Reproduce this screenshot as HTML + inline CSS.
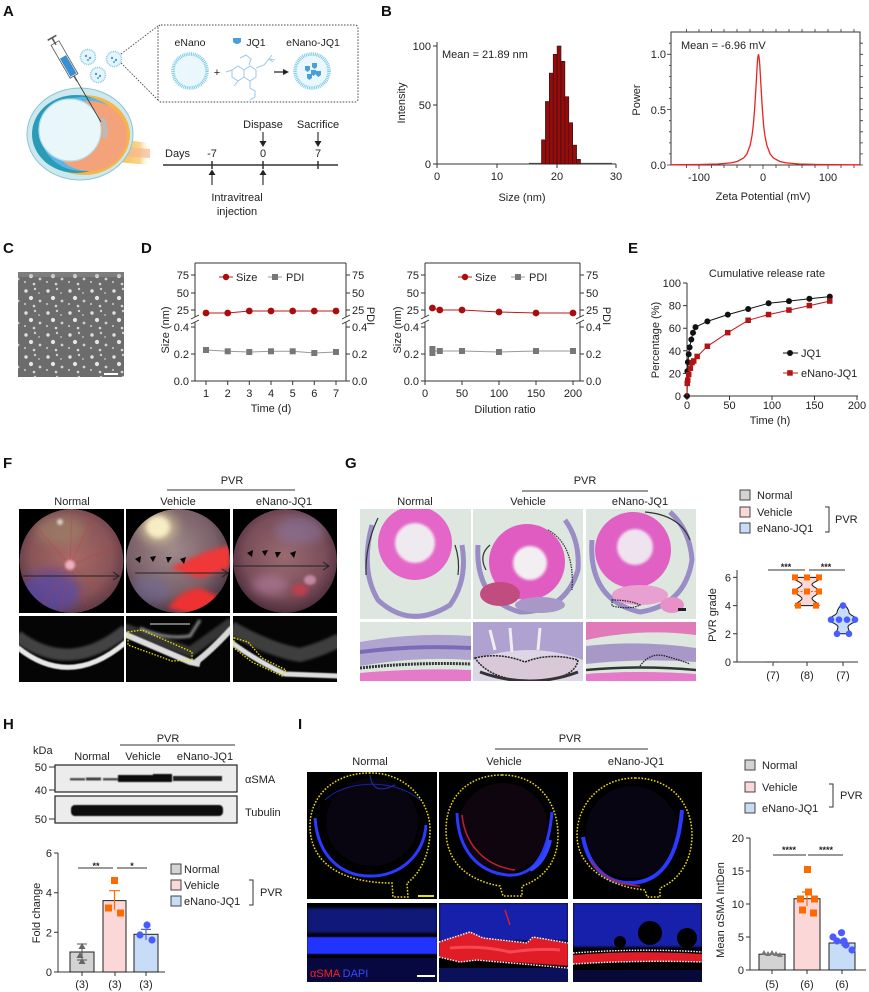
<!DOCTYPE html>
<html><head><meta charset="utf-8"><style>
html,body{margin:0;padding:0;background:#fff;}
svg{display:block;font-family:"Liberation Sans",Arial,sans-serif;}
</style></head><body>
<svg width="869" height="992" viewBox="0 0 869 992" xmlns="http://www.w3.org/2000/svg">
<defs>
<filter id="b05" x="-20%" y="-20%" width="140%" height="140%"><feGaussianBlur stdDeviation="0.6"/></filter>
<filter id="b1" x="-30%" y="-30%" width="160%" height="160%"><feGaussianBlur stdDeviation="1.2"/></filter>
<filter id="b2" x="-50%" y="-50%" width="200%" height="200%"><feGaussianBlur stdDeviation="2.5"/></filter>
<filter id="b4" x="-50%" y="-50%" width="200%" height="200%"><feGaussianBlur stdDeviation="5"/></filter>
<radialGradient id="fn1" cx="50%" cy="45%" r="55%"><stop offset="0" stop-color="#a86a66"/><stop offset="0.7" stop-color="#8a5558"/><stop offset="1" stop-color="#5e3a44"/></radialGradient>
<radialGradient id="fn2" cx="45%" cy="40%" r="60%"><stop offset="0" stop-color="#a08a8c"/><stop offset="0.7" stop-color="#7a6068"/><stop offset="1" stop-color="#4e3a48"/></radialGradient>
<radialGradient id="fn3" cx="50%" cy="45%" r="55%"><stop offset="0" stop-color="#9a6a70"/><stop offset="0.7" stop-color="#7a4e5a"/><stop offset="1" stop-color="#4e2e3c"/></radialGradient>
<linearGradient id="nerve" x1="0" x2="1" y1="0" y2="0"><stop offset="0" stop-color="#f6bc4e"/><stop offset="0.7" stop-color="#f8d58a"/><stop offset="1" stop-color="#fff" stop-opacity="0"/></linearGradient>
<pattern id="tem" width="22" height="22" patternUnits="userSpaceOnUse"><rect width="22" height="22" fill="#6c6c6c"/><circle cx="4" cy="5" r="1.7" fill="#e2e2e2"/><circle cx="13" cy="3" r="1.2" fill="#cfcfcf"/><circle cx="9" cy="12" r="2.1" fill="#e6e6e6"/><circle cx="18" cy="15" r="1.4" fill="#d0d0d0"/><circle cx="3" cy="18" r="1.1" fill="#bdbdbd"/><circle cx="17" cy="7" r="0.9" fill="#c8c8c8"/><circle cx="12" cy="20" r="1.3" fill="#d8d8d8"/></pattern>
<clipPath id="cF1"><circle cx="71.5" cy="561" r="52"/></clipPath>
<clipPath id="cF2"><circle cx="178" cy="561" r="52"/></clipPath>
<clipPath id="cF3"><circle cx="285" cy="561" r="52"/></clipPath>
<clipPath id="cG1"><rect x="360" y="509" width="111" height="110"/></clipPath>
<clipPath id="cG2"><rect x="473" y="509" width="110" height="110"/></clipPath>
<clipPath id="cG3"><rect x="586" y="509" width="110" height="110"/></clipPath>
<clipPath id="cG4"><rect x="360" y="622" width="111" height="59"/></clipPath>
<clipPath id="cG5"><rect x="473" y="622" width="110" height="59"/></clipPath>
<clipPath id="cG6"><rect x="586" y="622" width="110" height="59"/></clipPath>
<clipPath id="cO1"><rect x="19" y="616" width="105" height="66"/></clipPath>
<clipPath id="cO2"><rect x="126" y="616" width="104" height="66"/></clipPath>
<clipPath id="cO3"><rect x="233" y="616" width="104" height="66"/></clipPath>
<clipPath id="cI4"><rect x="307" y="903" width="130" height="79"/></clipPath>
<clipPath id="cI5"><rect x="439" y="903" width="129" height="79"/></clipPath>
<clipPath id="cI6"><rect x="573" y="903" width="129" height="79"/></clipPath>
</defs>
<rect width="869" height="992" fill="#fff"/>

<!-- Panel letters -->
<g font-weight="bold" font-size="15" fill="#111">
<text x="3" y="16">A</text><text x="381" y="16">B</text>
<text x="3" y="253">C</text><text x="141" y="253">D</text><text x="628" y="253">E</text>
<text x="3" y="468">F</text><text x="345" y="468">G</text>
<text x="3" y="729">H</text><text x="298" y="729">I</text>
</g>

<!-- ===== Panel A ===== -->
<g>
<path d="M116 139 L150 143 L150 165 L116 162 Z" fill="url(#nerve)"/>
<path d="M116 146 L150 149 L150 158 L116 156 Z" fill="#f6b690" opacity="0.7"/>
<ellipse cx="80" cy="134" rx="53" ry="46" fill="#cde8ee" stroke="#8ac6d2" stroke-width="1"/>
<ellipse cx="84" cy="135" rx="46" ry="40" fill="#f5b548"/>
<ellipse cx="76" cy="134" rx="44" ry="39" fill="#2b9cb8"/>
<ellipse cx="82" cy="134" rx="41" ry="37" fill="#5ab6e6"/>
<ellipse cx="89" cy="136" rx="38" ry="35" fill="#f4a27a"/>
<circle cx="70" cy="130" r="31" fill="#e9f6fa" stroke="#b5dde8" stroke-width="1.2"/>
<path d="M102 118 Q108 126 104 138" stroke="#9fc6d8" stroke-width="5" fill="none" opacity="0.6"/>
<line x1="55" y1="43" x2="101" y2="122" stroke="#333" stroke-width="0.8"/>
<g transform="translate(55,43) rotate(60)">
<rect x="0" y="-4.5" width="38" height="9" fill="#fff" stroke="#555" stroke-width="0.8"/>
<rect x="16" y="-3.5" width="21" height="7" fill="#3a8fd0"/>
<line x1="-6" y1="0" x2="2" y2="0" stroke="#555" stroke-width="1.5"/>
<line x1="-6" y1="-5" x2="-6" y2="5" stroke="#555" stroke-width="1.5"/>
<line x1="38" y1="0" x2="44" y2="0" stroke="#555" stroke-width="1.5"/>
</g>
<g fill="#e6f4fb" stroke="#8ccbe8" stroke-width="1.6" stroke-dasharray="1 0.8">
<circle cx="88" cy="57" r="7.5"/><circle cx="114" cy="59" r="7.5"/><circle cx="98" cy="75" r="7.5"/>
</g>
<g fill="#4b9fd8">
<circle cx="86" cy="56" r="1.2"/><circle cx="90" cy="58" r="1.2"/><circle cx="88" cy="60" r="1"/>
<circle cx="112" cy="58" r="1.2"/><circle cx="116" cy="60" r="1.2"/><circle cx="114" cy="62" r="1"/>
<circle cx="96" cy="74" r="1.2"/><circle cx="100" cy="76" r="1.2"/><circle cx="98" cy="78" r="1"/>
</g>
<line x1="121" y1="54" x2="158" y2="26" stroke="#444" stroke-width="0.9" stroke-dasharray="1.5 1.5"/>
<line x1="121" y1="63" x2="158" y2="100" stroke="#444" stroke-width="0.9" stroke-dasharray="1.5 1.5"/>
<rect x="158" y="25" width="200" height="77" rx="3" fill="none" stroke="#444" stroke-width="1" stroke-dasharray="1.5 1.5"/>
<g font-size="10.5" fill="#222" text-anchor="middle">
<text x="190" y="46">eNano</text><text x="256" y="46">JQ1</text><text x="313" y="46">eNano-JQ1</text>
</g>
<path d="M233 38 h8 v4 q-4 4 -8 0 Z" fill="#4b9fd8"/>
<circle cx="190" cy="71" r="17" fill="#eaf7fc" stroke="#7fcbe8" stroke-width="3.5" stroke-dasharray="1 0.8"/>
<circle cx="312" cy="71" r="17" fill="#eaf7fc" stroke="#7fcbe8" stroke-width="3.5" stroke-dasharray="1 0.8"/>
<g fill="#4b9fd8"><path d="M305 66 h5 v4 l-2.5 2 l-2.5 -2 Z"/><path d="M312 63 h5 v4 l-2.5 2 l-2.5 -2 Z"/><path d="M316 71 h5 v4 l-2.5 2 l-2.5 -2 Z"/><path d="M307 74 h5 v4 l-2.5 2 l-2.5 -2 Z"/><path d="M311 70 h5 v4 l-2.5 2 l-2.5 -2 Z"/></g>
<g stroke="#9cc8e8" stroke-width="1" fill="none">
<path d="M232 70 l6 -4 l6 4 l0 7 l-6 4 l-6 -4 Z"/><path d="M244 70 l6 -4 l6 4 l0 7 l-6 4 l-6 -4 Z"/>
<path d="M240 58 l6 -3 l5 4 l-2 6"/><path d="M256 68 l8 -3 l5 -6 l6 1"/><path d="M269 59 l3 -4 m-3 4 l4 3"/>
<path d="M250 81 l0 7 l5 3 l0 6 l-5 3"/><path d="M226 72 l6 -2"/><path d="M238 81 l-4 5"/>
</g>
<text x="217" y="76" font-size="11" fill="#222" text-anchor="middle">+</text>
<line x1="274" y1="72" x2="284" y2="72" stroke="#222" stroke-width="1.2"/>
<path d="M289 72 L283 69 L283 75 Z" fill="#222"/>
<line x1="163" y1="165" x2="338" y2="165" stroke="#333" stroke-width="1.5"/>
<g stroke="#333" stroke-width="1.5"><line x1="212" y1="161" x2="212" y2="169"/><line x1="263" y1="161" x2="263" y2="169"/><line x1="318" y1="161" x2="318" y2="169"/></g>
<g font-size="11" fill="#222" text-anchor="middle">
<text x="165" y="157" text-anchor="start">Days</text><text x="212" y="157">-7</text><text x="263" y="157">0</text><text x="318" y="157">7</text>
<text x="263" y="128">Dispase</text><text x="318" y="128">Sacrifice</text>
<text x="237" y="201">Intravitreal</text><text x="237" y="215">injection</text>
</g>
<g stroke="#222" stroke-width="1.1">
<line x1="263" y1="132" x2="263" y2="142"/><line x1="318" y1="132" x2="318" y2="142"/>
<line x1="212" y1="185" x2="212" y2="174"/><line x1="263" y1="185" x2="263" y2="174"/>
</g>
<g fill="#222">
<path d="M259.5 141 L266.5 141 L263 147 Z"/><path d="M314.5 141 L321.5 141 L318 147 Z"/>
<path d="M208.5 175 L215.5 175 L212 169.5 Z"/><path d="M259.5 175 L266.5 175 L263 169.5 Z"/>
</g>
</g>

<!-- ===== Panel B left ===== -->
<g font-size="11" fill="#222">
<line x1="437" y1="42" x2="437" y2="164" stroke="#333"/>
<line x1="437" y1="164" x2="616" y2="164" stroke="#333"/>
<g stroke="#333"><line x1="433" y1="46" x2="437" y2="46"/><line x1="433" y1="105" x2="437" y2="105"/><line x1="433" y1="164" x2="437" y2="164"/>
<line x1="437" y1="164" x2="437" y2="168"/><line x1="497" y1="164" x2="497" y2="168"/><line x1="557" y1="164" x2="557" y2="168"/><line x1="616" y1="164" x2="616" y2="168"/></g>
<g text-anchor="end"><text x="431" y="50">100</text><text x="431" y="109">50</text><text x="431" y="168">0</text></g>
<g text-anchor="middle"><text x="437" y="180">0</text><text x="497" y="180">10</text><text x="557" y="180">20</text><text x="616" y="180">30</text>
<text x="522" y="201">Size (nm)</text>
<text transform="translate(405,103) rotate(-90)">Intensity</text></g>
<text x="442" y="58">Mean = 21.89 nm</text>
<line x1="529" y1="163.5" x2="612" y2="163.5" stroke="#444" stroke-width="1.2"/>
<g fill="#9b0a0a" stroke="#1a1a1a" stroke-width="0.6">
<rect x="541.5" y="139.8" width="3.9" height="24.2"/>
<rect x="545.4" y="101.5" width="3.9" height="62.5"/>
<rect x="549.3" y="73.1" width="3.9" height="90.9"/>
<rect x="553.2" y="54.3" width="3.9" height="109.7"/>
<rect x="557.1" y="46" width="3.9" height="118"/>
<rect x="561" y="61.3" width="3.9" height="102.7"/>
<rect x="564.9" y="96.7" width="3.9" height="67.3"/>
<rect x="568.8" y="122.7" width="3.9" height="41.3"/>
<rect x="572.7" y="145.1" width="3.9" height="18.9"/>
<rect x="576.6" y="159.3" width="3.9" height="4.7"/>
</g>
</g>

<!-- ===== Panel B right ===== -->
<g font-size="11" fill="#222">
<rect x="671" y="32" width="189" height="133" fill="none" stroke="#333"/>
<g stroke="#333" stroke-width="0.8">
<path d="M686.5 165v3M699 165v4M711.5 165v3M724 165v3M737 165v3M750 165v3M763 165v4M776 165v3M789 165v3M802 165v3M815 165v3M828 165v4M841 165v3M854 165v3"/>
<path d="M686.5 32v-3M699 32v-3M711.5 32v-3M724 32v-3M737 32v-3M750 32v-3M763 32v-3M776 32v-3M789 32v-3M802 32v-3M815 32v-3M828 32v-3M841 32v-3M854 32v-3"/>
<path d="M671 165h-4M671 153.9h-2M671 142.9h-2M671 131.8h-2M671 120.7h-2M671 109.6h-4M671 98.6h-2M671 87.5h-2M671 76.4h-2M671 65.4h-2M671 54.3h-4M671 43.2h-2"/>
<path d="M860 165h3M860 153.9h3M860 142.9h3M860 131.8h3M860 120.7h3M860 109.6h3M860 98.6h3M860 87.5h3M860 76.4h3M860 65.4h3M860 54.3h3M860 43.2h3"/>
</g>
<g text-anchor="end"><text x="666" y="58">1.0</text><text x="666" y="114">0.5</text><text x="666" y="169">0.0</text></g>
<g text-anchor="middle"><text x="699" y="181">-100</text><text x="763" y="181">0</text><text x="828" y="181">100</text>
<text x="763" y="200">Zeta Potential (mV)</text>
<text transform="translate(640,100) rotate(-90)">Power</text></g>
<text x="681" y="49">Mean = -6.96 mV</text>
<polyline fill="none" stroke="#f02020" stroke-width="1.3" points="671,164.8 698.5,164.5 717.9,164 730.8,162.9 737.2,161.5 743.7,157.9 746.9,153.9 750.1,145.5 752,135.7 753.3,125.2 754.6,109.6 755.9,88.4 757.2,65.4 757.8,57.3 758.5,54.3 759.1,57.3 759.8,65.4 761.1,88.4 762.4,109.6 763.6,125.2 764.9,135.7 766.9,145.5 770.1,153.9 773.3,157.9 779.8,161.5 786.2,162.9 799.1,164 818.5,164.5 850.7,164.8 859.8,164.8"/>
</g>

<!-- ===== Panel C ===== -->
<rect x="18" y="272" width="106" height="105" fill="url(#tem)"/>
<rect x="18" y="272" width="106" height="5" fill="#999" opacity="0.4"/>
<line x1="104" y1="374" x2="118" y2="374" stroke="#fff" stroke-width="2"/>

<!-- ===== Panel D1 ===== -->
<g font-size="11" fill="#222">
<g stroke="#333" fill="none">
<path d="M195 263 V317 M195 322 V381 H346 M346 263 V317 M346 322 V381 M195 263 H346"/>
<path d="M191 319 l8 -4 M191 324 l8 -4 M342 319 l8 -4 M342 324 l8 -4" stroke-width="0.9"/>
<path d="M191 275h4M191 293h4M191 310h4M191 327h4M191 354h4M191 381h4 M346 275h4M346 293h4M346 310h4M346 327h4M346 354h4M346 381h4"/>
<path d="M206 381v4M227.7 381v4M249.3 381v4M271 381v4M292.7 381v4M314.3 381v4M336 381v4"/>
</g>
<g text-anchor="end"><text x="189" y="279">75</text><text x="189" y="297">50</text><text x="189" y="314">25</text><text x="189" y="331">0.4</text><text x="189" y="358">0.2</text><text x="189" y="385">0.0</text></g>
<g><text x="352" y="279">75</text><text x="352" y="297">50</text><text x="352" y="314">25</text><text x="352" y="331">0.4</text><text x="352" y="358">0.2</text><text x="352" y="385">0.0</text></g>
<g text-anchor="middle"><text x="206" y="397">1</text><text x="227.7" y="397">2</text><text x="249.3" y="397">3</text><text x="271" y="397">4</text><text x="292.7" y="397">5</text><text x="314.3" y="397">6</text><text x="336" y="397">7</text>
<text x="271" y="412">Time (d)</text>
<text transform="translate(169,330) rotate(-90)">Size (nm)</text>
<text transform="translate(367,316) rotate(90)">PDI</text></g>
<polyline fill="none" stroke="#c01818" stroke-width="1" points="206,313 227.7,313 249.3,311 271,311 292.7,311 314.3,311 336,311"/>
<g fill="#a80c0c"><circle cx="206" cy="313" r="3.4"/><circle cx="227.7" cy="313" r="3.4"/><circle cx="249.3" cy="311" r="3.4"/><circle cx="271" cy="311" r="3.4"/><circle cx="292.7" cy="311" r="3.4"/><circle cx="314.3" cy="311" r="3.4"/><circle cx="336" cy="311" r="3.4"/></g>
<polyline fill="none" stroke="#999" stroke-width="1" points="206,350 227.7,351.3 249.3,352 271,351.3 292.7,351.3 314.3,353 336,352"/>
<g fill="#777"><rect x="203" y="347" width="6" height="6"/><rect x="224.7" y="348.3" width="6" height="6"/><rect x="246.3" y="349" width="6" height="6"/><rect x="268" y="348.3" width="6" height="6"/><rect x="289.7" y="348.3" width="6" height="6"/><rect x="311.3" y="350" width="6" height="6"/><rect x="333" y="349" width="6" height="6"/></g>
<line x1="219" y1="277" x2="233" y2="277" stroke="#c01818"/><circle cx="226" cy="277" r="3.2" fill="#a80c0c"/><text x="236" y="281">Size</text>
<line x1="268" y1="277" x2="282" y2="277" stroke="#999"/><rect x="272" y="274" width="6" height="6" fill="#777"/><text x="286" y="281">PDI</text>
</g>

<!-- ===== Panel D2 ===== -->
<g font-size="11" fill="#222">
<g stroke="#333" fill="none">
<path d="M425 263 V317 M425 322 V381 H580 M580 263 V317 M580 322 V381 M425 263 H580"/>
<path d="M421 319 l8 -4 M421 324 l8 -4 M576 319 l8 -4 M576 324 l8 -4" stroke-width="0.9"/>
<path d="M421 275h4M421 293h4M421 310h4M421 327h4M421 354h4M421 381h4 M580 275h4M580 293h4M580 310h4M580 327h4M580 354h4M580 381h4"/>
<path d="M425 381v4M462 381v4M499 381v4M536 381v4M573 381v4"/>
</g>
<g text-anchor="end"><text x="419" y="279">75</text><text x="419" y="297">50</text><text x="419" y="314">25</text><text x="419" y="331">0.4</text><text x="419" y="358">0.2</text><text x="419" y="385">0.0</text></g>
<g><text x="586" y="279">75</text><text x="586" y="297">50</text><text x="586" y="314">25</text><text x="586" y="331">0.4</text><text x="586" y="358">0.2</text><text x="586" y="385">0.0</text></g>
<g text-anchor="middle"><text x="425" y="397">0</text><text x="462" y="397">50</text><text x="499" y="397">100</text><text x="536" y="397">150</text><text x="573" y="397">200</text>
<text x="505" y="413">Dilution ratio</text>
<text transform="translate(401,330) rotate(-90)">Size (nm)</text>
<text transform="translate(603,316) rotate(90)">PDI</text></g>
<polyline fill="none" stroke="#c01818" stroke-width="1" points="432.4,308 439.8,310 462,310 499,312 536,313 573,313"/>
<g fill="#a80c0c"><circle cx="432.4" cy="308" r="3.4"/><circle cx="439.8" cy="310" r="3.4"/><circle cx="462" cy="310" r="3.4"/><circle cx="499" cy="312" r="3.4"/><circle cx="536" cy="313" r="3.4"/><circle cx="573" cy="313" r="3.4"/></g>
<polyline fill="none" stroke="#999" stroke-width="1" points="432.4,351 439.8,351 462,351 499,352 536,351 573,351"/>
<g fill="#777"><rect x="429.4" y="346" width="6" height="6"/><rect x="429.4" y="350" width="6" height="6"/><rect x="436.8" y="348" width="6" height="6"/><rect x="459" y="348" width="6" height="6"/><rect x="496" y="349" width="6" height="6"/><rect x="533" y="348" width="6" height="6"/><rect x="570" y="348" width="6" height="6"/></g>
<line x1="458" y1="277" x2="472" y2="277" stroke="#c01818"/><circle cx="465" cy="277" r="3.2" fill="#a80c0c"/><text x="475" y="281">Size</text>
<line x1="511" y1="277" x2="525" y2="277" stroke="#999"/><rect x="515" y="274" width="6" height="6" fill="#777"/><text x="529" y="281">PDI</text>
</g>

<!-- ===== Panel E ===== -->
<g font-size="11" fill="#222">
<path d="M687 283 V396 H858" stroke="#333" fill="none"/>
<g stroke="#333"><path d="M683 283h4M683 305.6h4M683 328.2h4M683 350.8h4M683 373.4h4M683 396h4 M687 396v4M729.5 396v4M772 396v4M814.5 396v4M857 396v4"/></g>
<g text-anchor="end"><text x="681" y="287">100</text><text x="681" y="309.6">80</text><text x="681" y="332.2">60</text><text x="681" y="354.8">40</text><text x="681" y="377.4">20</text><text x="681" y="400">0</text></g>
<g text-anchor="middle"><text x="687" y="409">0</text><text x="729.5" y="409">50</text><text x="772" y="409">100</text><text x="814.5" y="409">150</text><text x="857" y="409">200</text>
<text x="770" y="424">Time (h)</text>
<text x="767" y="277">Cumulative release rate</text>
<text transform="translate(659,340) rotate(-90)">Percentage (%)</text></g>
<polyline fill="none" stroke="#111" stroke-width="1" points="687,396 687.4,371.1 687.9,362.1 688.7,354.2 689.6,347.4 691.3,339.5 693,332.7 695.5,327.1 707.4,321.4 727.8,314.6 748.2,309 768.6,303.3 789,301.1 809.4,298.8 829.8,296.6"/>
<g fill="#111"><circle cx="687" cy="396" r="3"/><circle cx="687.4" cy="371.1" r="3"/><circle cx="687.9" cy="362.1" r="3"/><circle cx="688.7" cy="354.2" r="3"/><circle cx="689.6" cy="347.4" r="3"/><circle cx="691.3" cy="339.5" r="3"/><circle cx="693" cy="332.7" r="3"/><circle cx="695.5" cy="327.1" r="3"/><circle cx="707.4" cy="321.4" r="3"/><circle cx="727.8" cy="314.6" r="3"/><circle cx="748.2" cy="309" r="3"/><circle cx="768.6" cy="303.3" r="3"/><circle cx="789" cy="301.1" r="3"/><circle cx="809.4" cy="298.8" r="3"/><circle cx="829.8" cy="296.6" r="3"/></g>
<polyline fill="none" stroke="#c01818" stroke-width="1" points="687,396 687.4,383.6 687.9,380.2 688.7,374.5 690.4,368.3 692.1,362.7 693.8,361 697.2,356.5 707.4,346.3 727.8,332.7 748.2,320.3 768.6,314.6 789,310.1 809.4,305.6 829.8,301.1"/>
<g fill="#b01414"><rect x="684.5" y="380.6" width="5.5" height="5.5"/><rect x="685" y="377.4" width="5.5" height="5.5"/><rect x="686" y="371.7" width="5.5" height="5.5"/><rect x="687.6" y="365.5" width="5.5" height="5.5"/><rect x="689.3" y="359.9" width="5.5" height="5.5"/><rect x="691" y="358.2" width="5.5" height="5.5"/><rect x="694.4" y="353.7" width="5.5" height="5.5"/><rect x="704.6" y="343.5" width="5.5" height="5.5"/><rect x="725" y="329.9" width="5.5" height="5.5"/><rect x="745.4" y="317.5" width="5.5" height="5.5"/><rect x="765.8" y="311.8" width="5.5" height="5.5"/><rect x="786.2" y="307.3" width="5.5" height="5.5"/><rect x="806.6" y="302.8" width="5.5" height="5.5"/><rect x="827" y="298.3" width="5.5" height="5.5"/></g>
<line x1="783" y1="353" x2="798" y2="353" stroke="#111"/><circle cx="790" cy="353" r="3" fill="#111"/><text x="801" y="357">JQ1</text>
<line x1="783" y1="373" x2="798" y2="373" stroke="#c01818"/><rect x="787.2" y="370.2" width="5.5" height="5.5" fill="#b01414"/><text x="801" y="377">eNano-JQ1</text>
</g>

<!-- ===== Panel F ===== -->
<g font-size="11" fill="#222" text-anchor="middle">
<text x="232" y="484">PVR</text><line x1="167" y1="490" x2="295" y2="490" stroke="#333"/>
<text x="72" y="505">Normal</text><text x="178" y="505">Vehicle</text><text x="284" y="505">eNano-JQ1</text>
</g>
<rect x="19" y="509" width="105" height="104" fill="#000"/>
<rect x="126" y="509" width="104" height="104" fill="#000"/>
<rect x="233" y="509" width="104" height="104" fill="#000"/>
<g clip-path="url(#cF1)">
<circle cx="71.5" cy="561" r="52" fill="url(#fn1)"/>
<ellipse cx="50" cy="592" rx="30" ry="22" fill="#5648a8" opacity="0.75" filter="url(#b4)"/>
<ellipse cx="60" cy="530" rx="25" ry="15" fill="#a09070" opacity="0.5" filter="url(#b4)"/>
<g stroke="#c83838" stroke-width="1" opacity="0.35">
<line x1="70" y1="565" x2="30" y2="520"/><line x1="70" y1="565" x2="95" y2="512"/><line x1="70" y1="565" x2="122" y2="545"/><line x1="70" y1="565" x2="115" y2="600"/><line x1="70" y1="565" x2="60" y2="613"/><line x1="70" y1="565" x2="20" y2="580"/><line x1="70" y1="565" x2="72" y2="510"/><line x1="70" y1="565" x2="90" y2="613"/><line x1="70" y1="565" x2="40" y2="610"/></g>
<circle cx="70" cy="565" r="5" fill="#f0b0c0" filter="url(#b1)"/>
<circle cx="60" cy="522" r="3" fill="#d8d0c0" filter="url(#b1)"/>
</g>
<g clip-path="url(#cF2)">
<circle cx="178" cy="561" r="52" fill="url(#fn2)"/>
<ellipse cx="158" cy="527" rx="12" ry="11" fill="#fffbe8" filter="url(#b2)"/>
<ellipse cx="158" cy="527" rx="20" ry="17" fill="#f0e0a0" opacity="0.5" filter="url(#b4)"/>
<path d="M170 568 L205 552 L230 545 L230 568 L200 578 Z" fill="#f03838" filter="url(#b2)"/>
<path d="M168 608 Q180 590 200 588 L218 596 Q210 612 190 614 Z" fill="#ee3030" filter="url(#b2)"/>
<ellipse cx="150" cy="590" rx="20" ry="14" fill="#7070a0" opacity="0.5" filter="url(#b4)"/>
</g>
<g clip-path="url(#cF3)">
<circle cx="285" cy="561" r="52" fill="url(#fn3)"/>
<ellipse cx="300" cy="530" rx="25" ry="14" fill="#8a80b0" opacity="0.45" filter="url(#b4)"/>
<ellipse cx="270" cy="585" rx="18" ry="10" fill="#c08ab0" opacity="0.5" filter="url(#b4)"/>
<ellipse cx="300" cy="590" rx="8" ry="6" fill="#d03a4a" opacity="0.8" filter="url(#b2)"/>
<ellipse cx="310" cy="580" rx="6" ry="5" fill="#e0a0c0" opacity="0.7" filter="url(#b1)"/>
</g>
<g stroke="#222" stroke-width="1">
<line x1="23" y1="576" x2="118" y2="576"/><line x1="135" y1="573" x2="227" y2="573"/><line x1="233" y1="566" x2="328" y2="566"/>
</g>
<g stroke="#222" stroke-width="1" fill="none"><path d="M113 572 L119 576 L113 580"/><path d="M222 569 L228 573 L222 577"/><path d="M323 562 L329 566 L323 570"/></g>
<g fill="#000">
<path d="M135 559 l6 -3 l-1 7 Z"/><path d="M150 557 l6 -1 l-3 6 Z"/><path d="M166 557 l6 0 l-4 6 Z"/><path d="M180 559 l6 -2 l-2 7 Z"/>
<path d="M247 553 l6 -3 l-1 7 Z"/><path d="M262 551 l6 -1 l-3 6 Z"/><path d="M275 552 l6 0 l-4 6 Z"/><path d="M290 553 l6 -2 l-2 7 Z"/>
</g>
<!-- OCT -->
<rect x="19" y="616" width="105" height="66" fill="#050505"/>
<rect x="126" y="616" width="104" height="66" fill="#050505"/>
<rect x="233" y="616" width="104" height="66" fill="#050505"/>
<g clip-path="url(#cO1)">
<path d="M17 636 Q70 676 126 630" stroke="#777" stroke-width="12" fill="none" opacity="0.55" filter="url(#b1)"/>
<path d="M17 647 Q70 690 126 642" stroke="#e8e8e8" stroke-width="5" fill="none" filter="url(#b05)"/>
</g>
<g clip-path="url(#cO2)">
<path d="M124 628 L190 652 L232 622" stroke="#666" stroke-width="10" fill="none" opacity="0.5" filter="url(#b1)"/>
<path d="M124 634 L190 662 L200 664" stroke="#ddd" stroke-width="6" fill="none" filter="url(#b05)"/>
<path d="M196 662 Q212 650 232 628" stroke="#d8d8d8" stroke-width="6" fill="none" filter="url(#b05)"/>
<path d="M140 628 Q165 640 190 636 L200 620" stroke="#aaa" stroke-width="3" fill="none" opacity="0.8" filter="url(#b1)"/>
<path d="M150 624 L190 624" stroke="#bbb" stroke-width="1.5" opacity="0.8"/>
<path d="M128 632 L142 630 L192 652 L192 660 L172 661 L128 645 Z" fill="none" stroke="#f0e000" stroke-width="1.3" stroke-dasharray="1.5 1.5"/>
</g>
<g clip-path="url(#cO3)">
<path d="M231 628 Q270 650 300 655 Q320 650 340 640" stroke="#777" stroke-width="14" fill="none" opacity="0.5" filter="url(#b1)"/>
<path d="M231 642 Q255 660 285 674 L340 676" stroke="#ddd" stroke-width="5" fill="none" filter="url(#b05)"/>
<path d="M234 638 L248 642 L262 658 L286 670 L282 676 L252 662 L234 648 Z" fill="none" stroke="#f0e000" stroke-width="1.3" stroke-dasharray="1.5 1.5"/>
</g>

<!-- ===== Panel G ===== -->
<g font-size="11" fill="#222" text-anchor="middle">
<text x="585" y="484">PVR</text><line x1="522" y1="491" x2="648" y2="491" stroke="#333"/>
<text x="415" y="505">Normal</text><text x="528" y="505">Vehicle</text><text x="640" y="505">eNano-JQ1</text>
</g>
<rect x="360" y="509" width="111" height="110" fill="#dde7e0"/>
<rect x="473" y="509" width="110" height="110" fill="#dde7e0"/>
<rect x="586" y="509" width="110" height="110" fill="#dde7e0"/>
<g clip-path="url(#cG1)">
<path d="M372 525 Q360 570 378 600 Q410 630 450 605 Q468 580 462 545" stroke="#9a8cc4" stroke-width="5" fill="none"/>
<path d="M378 518 Q365 545 366 575" stroke="#333" stroke-width="1.2" fill="none"/>
<path d="M455 545 Q460 560 458 575" stroke="#333" stroke-width="1.2" fill="none"/>
<circle cx="415" cy="543" r="37" fill="#e466c8"/>
<circle cx="415" cy="543" r="20" fill="#efeaf0" filter="url(#b1)"/>
</g>
<g clip-path="url(#cG2)">
<path d="M478 545 Q475 600 520 612 Q565 612 578 570 Q580 540 565 520" stroke="#9a8cc4" stroke-width="5" fill="none"/>
<path d="M548 530 Q575 545 572 590" stroke="#333" stroke-width="1.3" fill="none" stroke-dasharray="1.5 1"/>
<path d="M486 570 Q478 555 490 545" stroke="#333" stroke-width="1.2" fill="none"/>
<circle cx="527" cy="562" r="38" fill="#e05cc0"/>
<circle cx="530" cy="563" r="17" fill="#f2eef2" filter="url(#b1)"/>
<ellipse cx="500" cy="594" rx="20" ry="12" fill="#c04c80"/>
<ellipse cx="540" cy="605" rx="25" ry="8" fill="#a898c8"/>
</g>
<g clip-path="url(#cG3)">
<path d="M592 540 Q588 600 640 612 Q685 605 692 560 Q690 530 670 512" stroke="#9a8cc4" stroke-width="5" fill="none"/>
<path d="M645 512 Q680 515 690 540" stroke="#333" stroke-width="1.2" fill="none"/>
<circle cx="633" cy="550" r="38" fill="#e060c4"/>
<circle cx="635" cy="547" r="18" fill="#efe3ef" filter="url(#b1)"/>
<ellipse cx="640" cy="595" rx="28" ry="10" fill="#e8a0d0"/>
<ellipse cx="672" cy="605" rx="12" ry="8" fill="#e890c8"/>
<path d="M612 600 Q630 600 640 605 Q630 610 612 606 Z" fill="none" stroke="#222" stroke-width="1.2" stroke-dasharray="1.5 1"/>
<rect x="678" y="608" width="8" height="3" fill="#222"/>
</g>
<rect x="360" y="622" width="111" height="59" fill="#dde7e0"/>
<rect x="473" y="622" width="110" height="59" fill="#ddd6e6"/>
<rect x="586" y="622" width="110" height="59" fill="#dde7e0"/>
<g clip-path="url(#cG4)">
<path d="M360 642 Q415 632 471 636 L471 660 Q415 656 360 666 Z" fill="#b0a4d0"/>
<path d="M360 652 Q415 645 471 648" stroke="#7c6cb8" stroke-width="4" fill="none"/>
<path d="M360 668 Q415 662 471 664" stroke="#333" stroke-width="3" fill="none" stroke-dasharray="2 1"/>
<path d="M360 673 Q415 668 471 670 L471 681 L360 681 Z" fill="#e47ac8"/>
</g>
<g clip-path="url(#cG5)">
<path d="M473 622 H583 V660 Q530 640 473 660 Z" fill="#b0a2d0"/>
<path d="M490 630 L495 650 M510 628 L512 652 M540 628 L538 650" stroke="#eee" stroke-width="3"/>
<path d="M475 658 Q500 652 525 662 Q550 652 578 660 Q575 680 530 681 Q490 680 475 658 Z" fill="#d8c8d8" stroke="#222" stroke-width="1.5" stroke-dasharray="2 1"/>
<path d="M480 672 Q530 690 578 672" stroke="#333" stroke-width="3" fill="none"/>
</g>
<g clip-path="url(#cG6)">
<path d="M586 622 H696 V635 Q640 628 586 640 Z" fill="#e07ab8"/>
<path d="M586 646 Q640 640 696 648 L696 662 Q640 658 586 664 Z" fill="#a898c8"/>
<path d="M640 666 Q650 652 665 656 Q680 660 690 664" stroke="#222" stroke-width="1.3" fill="none" stroke-dasharray="1.5 1"/>
<path d="M586 670 Q640 665 696 670" stroke="#333" stroke-width="2.5" fill="none"/>
<path d="M586 674 Q640 670 696 674 L696 681 L586 681 Z" fill="#e47ac8"/>
</g>
<g font-size="11" fill="#222">
<rect x="740" y="490" width="10" height="10" fill="#d3d3d3" stroke="#444"/>
<rect x="740" y="507" width="10" height="10" fill="#fcd7d7" stroke="#444"/>
<rect x="740" y="523" width="10" height="10" fill="#c6dcf7" stroke="#444"/>
<text x="757" y="499">Normal</text><text x="757" y="516">Vehicle</text><text x="757" y="532">eNano-JQ1</text>
<path d="M825 507 h4 v25 h-4" fill="none" stroke="#333"/>
<text x="835" y="523">PVR</text>
</g>
<g font-size="11" fill="#222">
<path d="M737 570 V662 H858" stroke="#333" fill="none"/>
<g stroke="#333"><path d="M733 577.4h4M733 605.6h4M733 633.8h4M733 662h4M773 662v4M807 662v4M843 662v4"/></g>
<g text-anchor="end"><text x="731" y="581.4">6</text><text x="731" y="609.6">4</text><text x="731" y="637.8">2</text><text x="731" y="666">0</text></g>
<g text-anchor="middle"><text x="773" y="679">(7)</text><text x="807" y="679">(8)</text><text x="843" y="679">(7)</text>
<text transform="translate(716,615) rotate(-90)">PVR grade</text>
<text x="786" y="570" font-size="9" font-weight="bold">***</text><text x="826" y="570" font-size="9" font-weight="bold">***</text></g>
<path d="M768 570 H805 M809 570 H845" stroke="#333"/>
<path d="M766 662 H780" stroke="#888" stroke-width="2" stroke-dasharray="1 1"/>
<path d="M794 577.4 L820 577.4 C822 580 812 582 812 584.5 C812 587 820 589 820 591.5 C820 594 812 596 812 598.6 C812 601 819 603 819 605.6 L795 605.6 C795 603 802 601 802 598.6 C802 596 794 594 794 591.5 C794 589 802 587 802 584.5 C802 582 792 580 794 577.4 Z" fill="#fcd7d7" stroke="#111"/>
<path d="M797 591.5 H817" stroke="#ff6a00" stroke-dasharray="2 1.5"/>
<g fill="#ff6a00"><rect x="792" y="574.4" width="6" height="6"/><rect x="804" y="574.4" width="6" height="6"/><rect x="816" y="574.4" width="6" height="6"/><rect x="792" y="588.5" width="6" height="6"/><rect x="804" y="588.5" width="6" height="6"/><rect x="816" y="588.5" width="6" height="6"/><rect x="795" y="602.6" width="6" height="6"/><rect x="813" y="602.6" width="6" height="6"/></g>
<path d="M843 603 C846 606 849 610 849 612.6 C849 615 857 617 857 619.7 C857 622 848 624 848 626.7 C848 629 850 632 850 633.8 L836 633.8 C836 632 838 629 838 626.7 C838 624 829 622 829 619.7 C829 617 837 615 837 612.6 C837 610 840 606 843 603 Z" fill="#c6dcf7" stroke="#111"/>
<g fill="#4a5cff"><circle cx="843" cy="605.6" r="3.3"/><circle cx="831" cy="619.7" r="3.3"/><circle cx="839" cy="619.7" r="3.3"/><circle cx="847" cy="619.7" r="3.3"/><circle cx="855" cy="619.7" r="3.3"/><circle cx="837" cy="633.8" r="3.3"/><circle cx="849" cy="633.8" r="3.3"/></g>
</g>

<!-- ===== Panel H ===== -->
<g font-size="11" fill="#222">
<text x="168" y="742" text-anchor="middle">PVR</text><line x1="120" y1="745" x2="235" y2="745" stroke="#333"/>
<text x="33" y="754">kDa</text>
<g text-anchor="middle"><text x="92" y="760">Normal</text><text x="143" y="760">Vehicle</text><text x="205" y="760">eNano-JQ1</text></g>
<rect x="55" y="765" width="182" height="27" fill="#ececec" stroke="#222" stroke-width="1.2"/>
<rect x="55" y="796" width="182" height="27" fill="#ececec" stroke="#222" stroke-width="1.2"/>
<g text-anchor="end"><text x="47" y="771">50</text><text x="47" y="794">40</text><text x="47" y="823">50</text></g>
<path d="M49 767h6M49 790h6M49 819h6" stroke="#333"/>
<g filter="url(#b05)">
<rect x="70" y="778" width="15" height="2.5" fill="#555"/><rect x="86" y="777.5" width="15" height="3" fill="#444"/><rect x="103" y="778" width="15" height="2.5" fill="#555"/>
<rect x="118" y="775" width="18" height="7" fill="#111"/><rect x="135" y="775" width="18" height="7" fill="#111"/><rect x="153" y="774" width="19" height="8" fill="#0a0a0a"/>
<rect x="173" y="776" width="17" height="5" fill="#222"/><rect x="189" y="776" width="17" height="5" fill="#222"/><rect x="205" y="776" width="17" height="5" fill="#222"/>
</g>
<rect x="71" y="805" width="152" height="11" rx="4" fill="#0a0a0a" filter="url(#b05)"/>
<text x="245" y="783">αSMA</text><text x="245" y="816">Tubulin</text>
<path d="M58 853 V972 H165" stroke="#333" fill="none"/>
<path d="M54 853h4M54 892.7h4M54 932.3h4M54 972h4M82 972v4M115 972v4M146 972v4" stroke="#333"/>
<g text-anchor="end"><text x="52" y="857">6</text><text x="52" y="896.7">4</text><text x="52" y="936.3">2</text><text x="52" y="976">0</text></g>
<g text-anchor="middle"><text x="82" y="988">(3)</text><text x="115" y="988">(3)</text><text x="146" y="988">(3)</text>
<text transform="translate(40,913) rotate(-90)">Fold change</text>
<text x="96" y="869" font-size="9" font-weight="bold">**</text><text x="132" y="869" font-size="9" font-weight="bold">*</text></g>
<path d="M78 868 H113 M117 868 H147" stroke="#333"/>
<rect x="70" y="952" width="24" height="20" fill="#d3d3d3" stroke="#222"/>
<rect x="103" y="900.6" width="23" height="71.4" fill="#fcd7d7" stroke="#222"/>
<rect x="134" y="934.3" width="24" height="37.7" fill="#c6dcf7" stroke="#222"/>
<path d="M82 944V960M77 944h10M77 960h10" stroke="#555"/>
<path d="M114.5 890.7V910M109 890.7h11" stroke="#ff6a00" stroke-width="1.2"/>
<path d="M146 929.4V940M141 929.4h10" stroke="#4a5cff" stroke-width="1.2"/>
<g fill="#666"><path d="M82 943 l3.5 6 h-7 Z"/><path d="M80 952 l3.5 6 h-7 Z"/><path d="M82 958 l3.5 6 h-7 Z"/></g>
<g fill="#ff6a00"><rect x="111" y="877" width="7" height="7"/><rect x="105" y="904.5" width="7" height="7"/><rect x="117" y="909.5" width="7" height="7"/></g>
<g fill="#4a5cff"><circle cx="147" cy="925" r="3.6"/><circle cx="140" cy="935" r="3.6"/><circle cx="152" cy="940" r="3.6"/></g>
<rect x="171" y="864" width="10" height="10" fill="#d3d3d3" stroke="#444"/>
<rect x="171" y="880" width="10" height="10" fill="#fcd7d7" stroke="#444"/>
<rect x="171" y="896" width="10" height="10" fill="#c6dcf7" stroke="#444"/>
<text x="184" y="873">Normal</text><text x="184" y="889">Vehicle</text><text x="184" y="905">eNano-JQ1</text>
<path d="M249 880 h4 v25 h-4" fill="none" stroke="#333"/>
<text x="260" y="896">PVR</text>
</g>

<!-- ===== Panel I ===== -->
<g font-size="11" fill="#222" text-anchor="middle">
<text x="570" y="742">PVR</text><line x1="495" y1="749" x2="648" y2="749" stroke="#333"/>
<text x="370" y="765">Normal</text><text x="504" y="765">Vehicle</text><text x="636" y="765">eNano-JQ1</text>
</g>
<rect x="307" y="772" width="130" height="127" fill="#000"/>
<rect x="439" y="772" width="129" height="127" fill="#000"/>
<rect x="573" y="772" width="129" height="127" fill="#000"/>
<g fill="none">
<ellipse cx="372" cy="822" rx="46" ry="44" fill="#0a0614" opacity="0.8"/>
<path d="M315 818 C318 860 345 877 372 876 C400 876 424 855 426 825" stroke="#2a3aff" stroke-width="3"/>
<path d="M325 800 C345 780 395 778 420 800" stroke="#1a22a0" stroke-width="1"/>
<path d="M370 775 C372 790 380 792 395 785" stroke="#2030a0" stroke-width="1"/>
<path d="M369 773 C405 772 430 800 430 830 C430 860 415 878 407 883 L408 897 L393 897 L392 883 C340 883 310 862 310 826 C310 795 335 773 369 773 Z" stroke="#f0e000" stroke-width="1.5" stroke-dasharray="1.6 1.6"/>
<line x1="418" y1="896" x2="434" y2="896" stroke="#e8e000" stroke-width="2"/>
<ellipse cx="503" cy="828" rx="45" ry="45" fill="#120612" opacity="0.8"/>
<path d="M457 813 C458 850 478 872 507 875 C530 877 548 860 552 812" stroke="#2a3aff" stroke-width="3"/>
<path d="M462 815 C465 845 485 866 515 870" stroke="#c02030" stroke-width="1.5"/>
<path d="M530 870 Q545 862 550 840" stroke="#3344ff" stroke-width="4"/>
<path d="M502 775 C540 775 558 805 558 835 C558 865 540 880 522 886 L522 896 L503 896 L500 886 C465 880 446 860 446 830 C446 797 468 775 502 775 Z" stroke="#f0e000" stroke-width="1.5" stroke-dasharray="1.6 1.6"/>
<ellipse cx="632" cy="832" rx="46" ry="46" fill="#0a0616" opacity="0.8"/>
<path d="M583 837 C588 865 605 882 627 883 C660 884 678 860 682 810" stroke="#2a3aff" stroke-width="4"/>
<path d="M590 860 C600 875 615 885 640 886" stroke="#c02030" stroke-width="1.3"/>
<path d="M635 778 C672 778 692 805 692 835 C692 865 675 882 660 888 L660 897 L647 897 L645 890 C605 886 577 865 577 835 C577 805 600 778 635 778 Z" stroke="#f0e000" stroke-width="1.5" stroke-dasharray="1.6 1.6"/>
</g>
<rect x="307" y="903" width="130" height="79" fill="#000"/>
<rect x="439" y="903" width="129" height="79" fill="#000"/>
<rect x="573" y="903" width="129" height="79" fill="#000"/>
<g clip-path="url(#cI4)">
<rect x="307" y="908" width="130" height="25" fill="#1420a0" opacity="0.75" filter="url(#b1)"/>
<rect x="307" y="937" width="130" height="17" fill="#2033ff" filter="url(#b05)"/>
<rect x="307" y="958" width="130" height="24" fill="#0a0a50" opacity="0.8"/>
</g>
<g clip-path="url(#cI5)">
<rect x="439" y="903" width="129" height="38" fill="#1a28c8" opacity="0.85" filter="url(#b1)"/>
<path d="M439 942 L470 932 L483 938 L527 943 L533 937 L568 943 L568 966 L477 960 L460 962 L439 957 Z" fill="#e01c28" filter="url(#b05)"/>
<path d="M450 948 Q480 945 510 952 Q540 948 560 950" stroke="#ff5a6a" stroke-width="3" fill="none" opacity="0.7"/>
<rect x="439" y="968" width="129" height="14" fill="#0e1470" opacity="0.8"/>
<path d="M439 942 L470 932 L483 938 L527 943 L533 937 L568 943" stroke="#fff" stroke-width="1.4" fill="none" stroke-dasharray="1.5 1.3"/>
<path d="M439 957 L460 962 L477 960 L568 968" stroke="#fff" stroke-width="1.4" fill="none" stroke-dasharray="1.5 1.3"/>
<path d="M505 910 L510 925" stroke="#d02030" stroke-width="1.5"/>
</g>
<g clip-path="url(#cI6)">
<rect x="573" y="903" width="129" height="44" fill="#1a28c8" opacity="0.85" filter="url(#b1)"/>
<circle cx="650" cy="933" r="12" fill="#000"/><circle cx="687" cy="938" r="10" fill="#000"/><circle cx="620" cy="942" r="6" fill="#000"/>
<path d="M573 955 Q640 950 702 954 L702 962 Q640 960 573 964 Z" fill="#e01c28"/>
<path d="M573 953 Q640 948 702 952" stroke="#fff" stroke-width="1.4" fill="none" stroke-dasharray="1.5 1.3"/>
<path d="M573 964 Q640 960 702 962" stroke="#fff" stroke-width="1.4" fill="none" stroke-dasharray="1.5 1.3"/>
<rect x="573" y="970" width="129" height="12" fill="#0a0e50" opacity="0.7"/>
</g>
<text x="310" y="977" font-size="11"><tspan fill="#ff2020">αSMA</tspan><tspan fill="#3848ff"> DAPI</tspan></text>
<line x1="417" y1="976" x2="435" y2="976" stroke="#fff" stroke-width="2"/>
<g font-size="11" fill="#222">
<rect x="745" y="760" width="10" height="10" fill="#d3d3d3" stroke="#444"/>
<rect x="745" y="782" width="10" height="10" fill="#fcd7d7" stroke="#444"/>
<rect x="745" y="803" width="10" height="10" fill="#c6dcf7" stroke="#444"/>
<text x="762" y="769">Normal</text><text x="762" y="791">Vehicle</text><text x="762" y="812">eNano-JQ1</text>
<path d="M829 784 h4 v23 h-4" fill="none" stroke="#333"/>
<text x="840" y="799">PVR</text>
<path d="M750 838 V970 H866" stroke="#333" fill="none"/>
<path d="M746 838h4M746 871h4M746 904h4M746 937h4M746 970h4M772 970v4M807 970v4M842 970v4" stroke="#333"/>
<g text-anchor="end"><text x="744" y="842">20</text><text x="744" y="875">15</text><text x="744" y="908">10</text><text x="744" y="941">5</text><text x="744" y="974">0</text></g>
<g text-anchor="middle"><text x="772" y="988">(5)</text><text x="807" y="988">(6)</text><text x="842" y="988">(6)</text>
<text transform="translate(724,910) rotate(-90)">Mean αSMA IntDen</text>
<text x="789" y="853" font-size="9" font-weight="bold">****</text><text x="826" y="853" font-size="9" font-weight="bold">****</text></g>
<path d="M773 855 H806 M808 855 H843" stroke="#333"/>
<rect x="759" y="954.2" width="26" height="15.8" fill="#d3d3d3" stroke="#222"/>
<rect x="794" y="898.7" width="26" height="71.3" fill="#fcd7d7" stroke="#222"/>
<rect x="829" y="943" width="26" height="27" fill="#c6dcf7" stroke="#222"/>
<path d="M807 892V906M802 892h10" stroke="#ff6a00" stroke-width="1.2"/>
<path d="M842 940V946M837 940h10" stroke="#4a5cff" stroke-width="1.2"/>
<g fill="#777"><path d="M764 950 l3 5 h-6 Z"/><path d="M768 951 l3 5 h-6 Z"/><path d="M772 950 l3 5 h-6 Z"/><path d="M776 951 l3 5 h-6 Z"/><path d="M780 952 l3 5 h-6 Z"/></g>
<g fill="#ff6a00"><rect x="804" y="866" width="7" height="7"/><rect x="805" y="888.5" width="7" height="7"/><rect x="797" y="895.5" width="7" height="7"/><rect x="811" y="895.5" width="7" height="7"/><rect x="799" y="906.5" width="7" height="7"/><rect x="810" y="909.5" width="7" height="7"/></g>
<g fill="#4a5cff"><circle cx="841.5" cy="932.7" r="3.6"/><circle cx="833" cy="937" r="3.6"/><circle cx="837" cy="941" r="3.6"/><circle cx="844" cy="941" r="3.6"/><circle cx="846" cy="945" r="3.6"/><circle cx="852" cy="950" r="3.6"/></g>
</g>
</svg>
</body></html>
